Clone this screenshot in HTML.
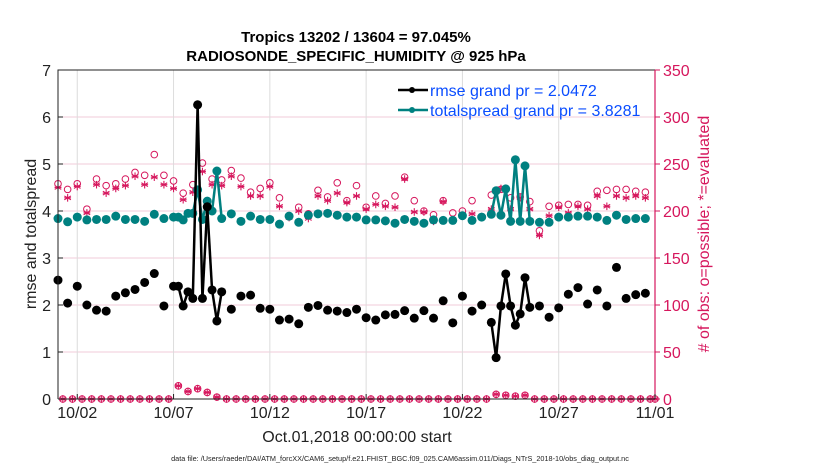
<!DOCTYPE html>
<html><head><meta charset="utf-8"><style>
body{margin:0;background:#fff;}
svg text{font-family:"Liberation Sans",Arial,sans-serif;}
</style></head><body>
<svg id="chart" width="830" height="470" xmlns="http://www.w3.org/2000/svg">
<rect width="830" height="470" fill="#fff"/>
<text x="356" y="42" text-anchor="middle" font-size="15" font-weight="bold">Tropics 13202 / 13604 = 97.045%</text>
<text x="356" y="61" text-anchor="middle" font-size="15" font-weight="bold">RADIOSONDE_SPECIFIC_HUMIDITY @ 925 hPa</text>
<g id="grid"></g>
<g id="marks"></g>
<g id="axes"></g>
<text x="357" y="442" text-anchor="middle" font-size="16" fill="#222">Oct.01,2018 00:00:00 start</text>
<text transform="translate(36,234) rotate(-90)" text-anchor="middle" font-size="16" fill="#222">rmse and totalspread</text>
<text transform="translate(709,234) rotate(-90)" text-anchor="middle" font-size="16" fill="#d6175d"># of obs: o=possible; *=evaluated</text>
<text x="400" y="461" text-anchor="middle" font-size="7.3" fill="#222">data file: /Users/raeder/DAI/ATM_forcXX/CAM6_setup/f.e21.FHIST_BGC.f09_025.CAM6assim.011/Diags_NTrS_2018-10/obs_diag_output.nc</text>
<g>
<line x1="398" y1="90" x2="428" y2="90" stroke="#000" stroke-width="2.5"/>
<circle cx="412" cy="90" r="3" fill="#000"/>
<text x="430" y="96" font-size="16" fill="#0a4dff">rmse grand pr = 2.0472</text>
<line x1="398" y1="110" x2="428" y2="110" stroke="#008080" stroke-width="2.5"/>
<circle cx="412" cy="110" r="3" fill="#008080"/>
<text x="430" y="116" font-size="16" fill="#0a4dff">totalspread grand pr = 3.8281</text>
</g>
</svg>
<script>
// 12-hourly analysis times (00Z/12Z), day offsets 0,0.5,...,30.5
const mainRmse=[2.53,2.04,2.40,2.0,1.89,1.87,2.19,2.26,2.33,2.48,2.67,1.98,2.40,1.98,2.14,2.14,2.32,2.28,1.91,2.19,2.21,1.93,1.91,1.68,1.70,1.60,1.95,1.99,1.89,1.87,1.84,1.91,1.73,1.68,1.79,1.80,1.88,1.72,1.88,1.72,2.09,1.62,2.19,1.87,2.0,1.63,1.98,1.98,1.81,1.95,1.98,1.74,1.94,2.23,2.37,2.02,2.32,1.98,2.80,2.14,2.22,2.25];
const mainSpread=[3.84,3.77,3.87,3.81,3.82,3.82,3.89,3.82,3.82,3.78,3.93,3.84,3.87,3.81,3.95,3.82,4.0,3.84,3.94,3.78,3.89,3.82,3.82,3.72,3.89,3.76,3.91,3.94,3.95,3.91,3.87,3.87,3.81,3.81,3.79,3.74,3.82,3.78,3.74,3.81,3.80,3.80,3.90,3.80,3.87,3.93,3.91,3.78,3.78,3.78,3.76,3.76,3.87,3.87,3.89,3.89,3.87,3.80,3.91,3.82,3.84,3.84];
const mainPossible=[229,223,229,202,234,227,229,234,241,238,260,238,232,219,228,251,234,233,243,235,220,224,230,214,194,204,197,222,215,230,211,227,204,216,208,216,236,211,200,196,211,198,200,211,194,217,223,214,215,210,179,205,206,207,207,206,221,222,223,223,221,220];
const mainEvaluated=[225,214,226,198,228,219,224,227,237,228,236,228,224,212,220,242,228,227,237,226,216,216,226,205,193,200,192,216,211,219,209,216,202,207,205,204,234,199,199,189,210,190,195,197,194,202,224,202,214,202,174,195,204,198,205,202,216,205,216,214,216,214];
// 06Z/18Z times that had observations
const extraDays=[6.25,6.75,7.25,7.75,8.25,22.75,23.25,23.75,24.25];
const extraRmse=[2.40,2.28,6.26,4.09,1.66,0.88,2.66,1.57,2.58];
const extraSpread=[3.87,3.95,4.45,4.21,4.85,4.43,4.47,5.09,4.96];
const extraPossible=[14,8,11,7,2,5,4,3,4];
const extraEvaluated=[14,8,11,7,2,5,4,3,4];
const xTickLabels=["10/02","10/07","10/12","10/17","10/22","10/27","11/01"];
const xTickDays=[1,6,11,16,21,26,31];
const leftTicks=[0,1,2,3,4,5,6,7];
const rightTicks=[0,50,100,150,200,250,300,350];

const L=58,R=655,T=70,B=399;
const xS=d=>L+(d-0)/31*(R-L);
const yS=v=>B-v/7*(B-T);
const yC=c=>B-c/350*(B-T);
const NS="http://www.w3.org/2000/svg";
function mk(tag,attrs,parent){const e=document.createElementNS(NS,tag);for(const k in attrs)e.setAttribute(k,attrs[k]);parent.appendChild(e);return e;}
const grid=document.getElementById('grid'),marks=document.getElementById('marks'),axes=document.getElementById('axes');

// build 6-hourly series
const N=125;const rm=[],sp=[],po=[],ev=[];
for(let i=0;i<N;i++){rm.push(null);sp.push(null);po.push(i%2===1?0:null);ev.push(i%2===1?0:null);}
po[124]=0;ev[124]=0;
mainRmse.forEach((v,k)=>{rm[k*2]=v;});
mainSpread.forEach((v,k)=>{sp[k*2]=v;});
mainPossible.forEach((v,k)=>{po[k*2]=v;});
mainEvaluated.forEach((v,k)=>{ev[k*2]=v;});
extraDays.forEach((d,k)=>{const i=Math.round(d*4);rm[i]=extraRmse[k];sp[i]=extraSpread[k];po[i]=extraPossible[k];ev[i]=extraEvaluated[k];});

// grid
rightTicks.forEach(c=>{if(c>0&&c<350){const g=mk('line',{x1:L,x2:R,y1:yC(c),y2:yC(c),stroke:'#f2cbd9','stroke-width':1},grid);

}});
xTickDays.forEach(d=>{const g=mk('line',{x1:xS(d),x2:xS(d),y1:T,y2:B,stroke:'#dcdcdc','stroke-width':1},grid);

});

// observation markers
function star(cx,cy,s,parent){const g=mk('g',{stroke:'#d6175d','stroke-width':1.1},parent);
for(const a of [0,60,120]){const r=a*Math.PI/180;mk('line',{x1:cx-s*Math.sin(r),y1:cy-s*Math.cos(r),x2:cx+s*Math.sin(r),y2:cy+s*Math.cos(r)},g);}
mk('line',{x1:cx-s*0.9,y1:cy,x2:cx+s*0.9,y2:cy},g);return g;}
for(let i=0;i<N;i++){if(po[i]===null)continue;const x=xS(i*0.25);
const c=mk('circle',{cx:x,cy:yC(po[i]),r:3.3,fill:'none',stroke:'#d6175d','stroke-width':1},marks);


const s=star(x,yC(ev[i]),3.8,marks);

}

// series lines & markers
function series(arr,color,name){
for(let i=0;i<N-1;i++){if(arr[i]!==null&&arr[i+1]!==null){const l=mk('line',{x1:xS(i*0.25),y1:yS(arr[i]),x2:xS((i+1)*0.25),y2:yS(arr[i+1]),stroke:color,'stroke-width':2.5},marks);

}}
for(let i=0;i<N;i++){if(arr[i]===null)continue;const c=mk('circle',{cx:xS(i*0.25),cy:yS(arr[i]),r:4.5,fill:color},marks);

}}
series(sp,'#008080','totalspread');
series(rm,'#000','rmse');

// axes
const box=mk('path',{d:`M${L},${B}V${T}H${R}M${L},${B}H${R}`,stroke:'#222',fill:'none','stroke-width':1},axes);


const ra=mk('line',{x1:R,x2:R,y1:T,y2:B,stroke:'#d6175d','stroke-width':1.2},axes);


leftTicks.forEach(v=>{mk('line',{x1:L,x2:L+5,y1:yS(v),y2:yS(v),stroke:'#222'},axes);
const t=mk('text',{x:L-7,y:yS(v)+6,'text-anchor':'end','font-size':16,fill:'#222'},axes);t.textContent=v;

});
rightTicks.forEach(c=>{mk('line',{x1:R,x2:R+5,y1:yC(c),y2:yC(c),stroke:'#d6175d'},axes);
const t=mk('text',{x:R+8,y:yC(c)+6,'font-size':16,fill:'#d6175d'},axes);t.textContent=c;

});
xTickLabels.forEach((lab,k)=>{const x=xS(xTickDays[k]);mk('line',{x1:x,x2:x,y1:B,y2:B-5,stroke:'#222'},axes);
const t=mk('text',{x:x,y:418,'text-anchor':'middle','font-size':16,fill:'#222'},axes);t.textContent=lab;

});
</script>
</body></html>
